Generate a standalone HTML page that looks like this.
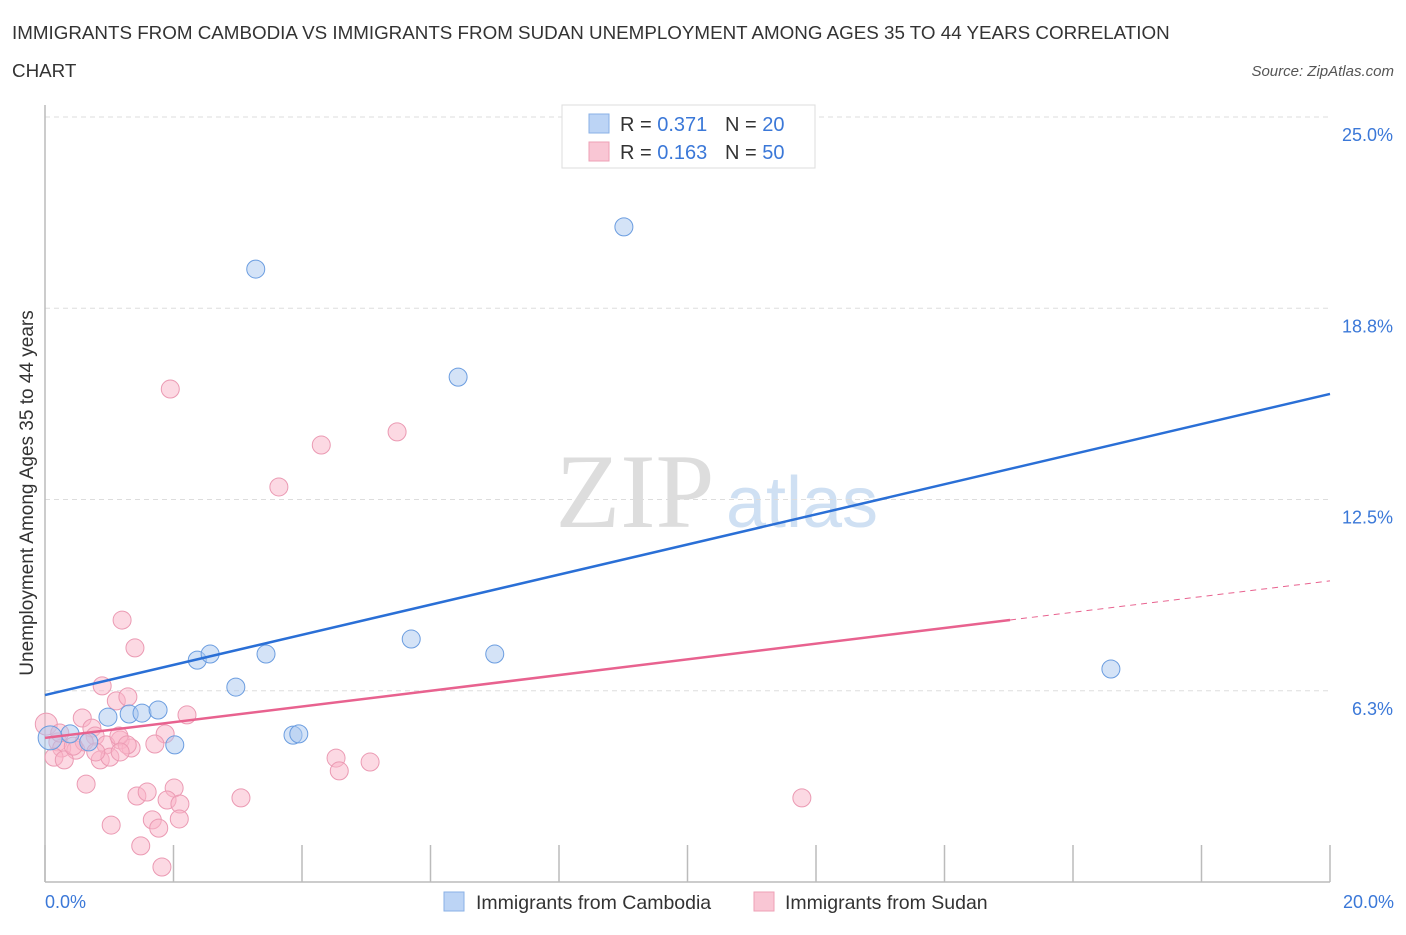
<!DOCTYPE html>
<html><head><meta charset="utf-8"><style>
body{margin:0;background:#fff;font-family:"Liberation Sans",sans-serif;}
</style></head><body>
<svg width="1406" height="930" xmlns="http://www.w3.org/2000/svg" id="chart" font-family="Liberation Sans, sans-serif">
<text x="12" y="39" font-size="18.8" fill="#333">IMMIGRANTS FROM CAMBODIA VS IMMIGRANTS FROM SUDAN UNEMPLOYMENT AMONG AGES 35 TO 44 YEARS CORRELATION</text>
<text x="12" y="77" font-size="18.8" fill="#333">CHART</text>
<text x="1394" y="76" font-size="15" fill="#555" font-style="italic" text-anchor="end">Source: ZipAtlas.com</text>
<text x="635" y="527" font-size="106" fill="#ddd" text-anchor="middle" style="font-family:'Liberation Serif',serif">ZIP</text>
<text x="802" y="527" font-size="72" fill="#cfe0f3" text-anchor="middle">atlas</text>
<g id="grid"></g>
<line x1="45" y1="105" x2="45" y2="882" stroke="#bbb" stroke-width="1.5"/>
<line x1="45" y1="882" x2="1330" y2="882" stroke="#bbb" stroke-width="1.5"/>
<g id="ticks"></g>
<text x="33" y="493" font-size="19" fill="#333" text-anchor="middle" transform="rotate(-90 33 493)">Unemployment Among Ages 35 to 44 years</text>
<text x="45" y="908" font-size="18" fill="#3b78d8">0.0%</text>
<text x="1394" y="908" font-size="18" fill="#3b78d8" text-anchor="end">20.0%</text>
<g id="pts"></g>
<g id="lines"></g>
<g>
<rect x="562" y="105" width="253" height="63" fill="#fff" stroke="#ddd"/>
<rect x="589" y="114" width="20" height="19" fill="#bcd4f5" stroke="#8ab0e6"/>
<rect x="589" y="142" width="20" height="19" fill="#f9c6d4" stroke="#eea0b6"/>
<text x="620" y="131" font-size="20" fill="#333">R = <tspan fill="#3b78d8">0.371</tspan></text>
<text x="725" y="131" font-size="20" fill="#333">N = <tspan fill="#3b78d8">20</tspan></text>
<text x="620" y="159" font-size="20" fill="#333">R = <tspan fill="#3b78d8">0.163</tspan></text>
<text x="725" y="159" font-size="20" fill="#333">N = <tspan fill="#3b78d8">50</tspan></text>
</g>
<g>
<rect x="444" y="892" width="20" height="19" fill="#bcd4f5" stroke="#8ab0e6"/>
<text x="476" y="909" font-size="19.5" fill="#333">Immigrants from Cambodia</text>
<rect x="754" y="892" width="20" height="19" fill="#f9c6d4" stroke="#eea0b6"/>
<text x="785" y="909" font-size="19.5" fill="#333">Immigrants from Sudan</text>
</g>
</svg>
<script>
const yTicks=[6.25,12.5,18.75,25];
const yTickLabels=["6.3%","12.5%","18.8%","25.0%"];
const xTicks=[0,2,4,6,8,10,12,14,16,18,20];
const cambodiaX=[3.28,9.01,6.43,2.37,2.57,3.44,2.97,5.70,7.00,16.59,0.98,1.31,1.51,1.76,2.02,3.86,3.95,0.68,0.39,0.08];
const cambodiaY=[20.03,21.41,16.50,7.25,7.45,7.45,6.37,7.94,7.45,6.96,5.39,5.49,5.52,5.62,4.48,4.80,4.84,4.58,4.84,4.71];
const sudanX=[1.95,4.30,5.48,3.64,1.20,1.40,0.89,1.11,1.29,2.21,0.58,0.73,1.87,0.78,1.17,0.95,1.34,1.71,0.20,0.26,0.48,0.14,0.30,0.86,1.01,0.02,0.64,1.43,1.59,2.01,1.90,2.10,1.03,1.67,1.77,2.09,1.49,1.82,3.05,4.53,4.58,5.06,11.78,0.61,1.15,1.28,0.44,0.79,0.23,1.17];
const sudanY=[16.11,14.28,14.71,12.91,8.56,7.65,6.41,5.92,6.05,5.46,5.36,5.03,4.84,4.77,4.64,4.48,4.38,4.51,4.58,4.38,4.31,4.08,3.99,3.99,4.08,5.16,3.20,2.81,2.94,3.07,2.68,2.55,1.86,2.03,1.76,2.06,1.18,0.49,2.75,4.05,3.63,3.92,2.75,4.58,4.77,4.48,4.44,4.25,4.87,4.25];
const cambodiaTrend=[6.11,15.95];
const sudanTrend=[4.71,9.84];
const sudanSolidEnd=15.02;
const NS="http://www.w3.org/2000/svg";
const sx=v=>45+v/20*1285;
const sy=v=>882-v*30.6;
function mk(tag,at,parent){const e=document.createElementNS(NS,tag);for(const k in at)e.setAttribute(k,at[k]);document.getElementById(parent).appendChild(e);return e;}
yTicks.forEach((t,i)=>{
 const l=mk('line',{x1:45,x2:1330,y1:sy(t),y2:sy(t),stroke:'#ddd','stroke-dasharray':'5,4'},'grid');
 
 
 const tx=mk('text',{x:1393,y:sy(t)+24,'font-size':18,fill:'#3b78d8','text-anchor':'end'},'grid');
 tx.textContent=yTickLabels[i];
 
 
});
xTicks.forEach(t=>{
 const l=mk('line',{x1:sx(t),x2:sx(t),y1:845,y2:882,stroke:'#bbb','stroke-width':1.5},'ticks');
 
 
});
sudanX.forEach((x,i)=>{
 const c=mk('circle',{cx:sx(x),cy:sy(sudanY[i]),r:(i==25?11:9),fill:'rgba(249,180,200,0.5)',stroke:'#eb9ab3','stroke-width':1},'pts');
 
 
});
cambodiaX.forEach((x,i)=>{
 const c=mk('circle',{cx:sx(x),cy:sy(cambodiaY[i]),r:(i==19?12:9),fill:'rgba(170,200,240,0.5)',stroke:'#6b9de0','stroke-width':1},'pts');
 
 
});
const slope=(sudanTrend[1]-sudanTrend[0])/20;
const se=sudanTrend[0]+slope*sudanSolidEnd;
let l1=mk('line',{x1:sx(0),y1:sy(cambodiaTrend[0]),x2:sx(20),y2:sy(cambodiaTrend[1]),stroke:'#2a6fd6','stroke-width':2.5},'lines');


let l2=mk('line',{x1:sx(0),y1:sy(sudanTrend[0]),x2:sx(sudanSolidEnd),y2:sy(se),stroke:'#e8628f','stroke-width':2.5},'lines');


let l3=mk('line',{x1:sx(sudanSolidEnd),y1:sy(se),x2:sx(20),y2:sy(sudanTrend[1]),stroke:'#e8628f','stroke-width':1,'stroke-dasharray':'6,5'},'lines');


</script>
</body></html>
